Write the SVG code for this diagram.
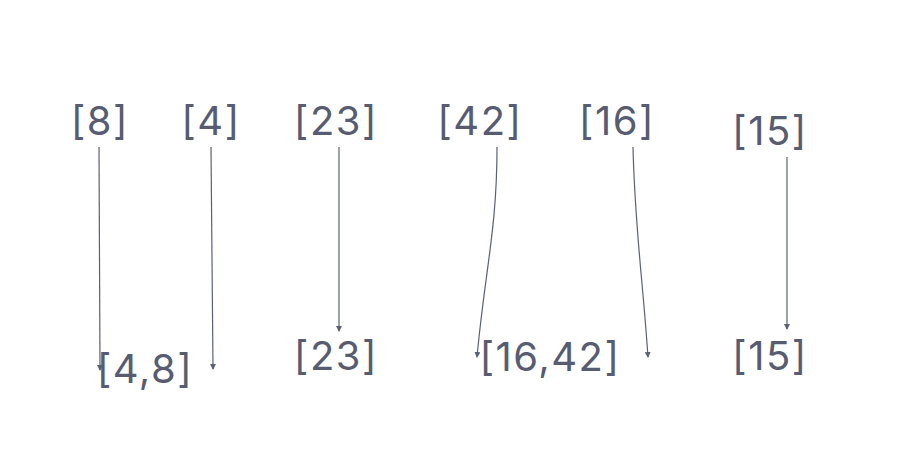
<svg xmlns="http://www.w3.org/2000/svg" width="900" height="454" viewBox="0 0 900 454">
<defs>
<marker id="ah" markerWidth="6" markerHeight="6" refX="5" refY="3" orient="auto" markerUnits="userSpaceOnUse">
<path d="M0,0 L6,3 L0,6 z" fill="#5b6076"/>
</marker>
<style>
.t{font-family:Inter,"Noto Sans",sans-serif;font-size:40px;letter-spacing:1.5px;fill:#575c71;text-anchor:middle}
.c{fill:none;stroke:#5b6076;stroke-width:1.2;marker-end:url(#ah)}
</style>
</defs>
<rect width="900" height="454" fill="#fff"/>
<g id="connectors">
<path class="c" d="M99,147 L100,370"/>
<path class="c" d="M211,147 L213,369"/>
<path class="c" d="M339,147 L339,331"/>
<path class="c" d="M497,147 C497,230 485,270 477,357"/>
<path class="c" d="M633,147 C635,230 642,270 648,357"/>
<path class="c" d="M787,157 L787,329"/>
</g>
<g id="n8"><text class="t" x="100" y="135">[8]</text></g>
<g id="n4"><text class="t" x="211" y="135">[4]</text></g>
<g id="n23"><text class="t" x="336" y="135">[23]</text></g>
<g id="n42"><text class="t" x="480" y="135">[42]</text></g>
<g id="n16"><text class="t" x="617" y="135">[16]</text></g>
<g id="n15"><text class="t" x="770" y="145">[15]</text></g>
<g id="m48"><text class="t" x="145" y="383">[4,8]</text></g>
<g id="m23"><text class="t" x="336" y="370">[23]</text></g>
<g id="m1642"><text class="t" x="550" y="371">[16,42]</text></g>
<g id="m15"><text class="t" x="770" y="370">[15]</text></g>
</svg>
